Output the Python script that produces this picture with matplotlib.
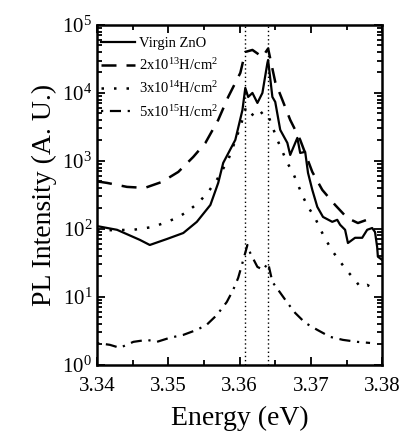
import numpy as np
import matplotlib
matplotlib.use('Agg')
import matplotlib.pyplot as plt
from matplotlib.ticker import MultipleLocator, LogLocator, NullFormatter

plt.rcParams['font.family'] = ['Liberation Serif', 'DejaVu Serif']
plt.rcParams['mathtext.fontset'] = 'custom'
plt.rcParams['mathtext.rm'] = 'Liberation Serif'
plt.rcParams['mathtext.it'] = 'Liberation Serif:italic'

# Virgin ZnO
e_virgin = [3.3400, 3.3428, 3.3460, 3.3474, 3.3498, 3.3521, 3.3540, 3.3559, 3.3570,
            3.3577, 3.3594, 3.3604, 3.3608, 3.3612, 3.3618, 3.3625, 3.3632, 3.3639,
            3.3640, 3.3646, 3.3650, 3.3657, 3.3667, 3.3671, 3.3681, 3.3685, 3.3692,
            3.3696, 3.3702, 3.3709, 3.3717, 3.3730, 3.3737, 3.3741, 3.3748, 3.3752,
            3.3762, 3.3772, 3.3779, 3.3786, 3.3790, 3.3793, 3.3794, 3.3800]
i_virgin = [110, 97, 69, 58, 71, 87, 127, 225, 475,
            935, 2040, 5620, 11860, 8730, 10000, 7130, 10000, 27600,
            30550, 8730, 7380, 2860, 1840, 1225, 2180, 1310, 1360,
            666, 375, 211, 150, 127, 136, 115, 97, 62,
            74, 74, 97, 103, 90, 54, 39, 35]

# 2x10^13 H/cm^2
e_h13 = [3.3400, 3.3414, 3.3442, 3.3467, 3.3491, 3.3514, 3.3535, 3.3552, 3.3570,
         3.3584, 3.3601, 3.3608, 3.3618, 3.3632, 3.3640, 3.3650, 3.3660, 3.3671,
         3.3685, 3.3702, 3.3716, 3.3734, 3.3751, 3.3766, 3.3786]
i_h13 = [500, 475, 415, 401, 491, 689, 1145, 1840, 4010,
         8730, 19700, 40100, 42900, 33800, 45000, 14500, 7890, 4010,
         2040, 689, 375, 225, 145, 122, 145]

# 3x10^14 H/cm^2
e_h14 = [3.3400, 3.3451, 3.3479, 3.3498, 3.3512, 3.3526, 3.3542, 3.3556, 3.3568,
         3.3584, 3.3601, 3.3609, 3.3622, 3.3633, 3.3640, 3.3653, 3.3667, 3.3675,
         3.3682, 3.3689, 3.3696, 3.3706, 3.3713, 3.3721, 3.3731, 3.3741, 3.3752,
         3.3762, 3.3769, 3.3779, 3.3786]
i_h14 = [95, 97, 107, 127, 145, 178, 241, 350, 525,
         1035, 3160, 6200, 4290, 5300, 4700, 2040, 935, 666,
         444, 296, 211, 145, 100, 69, 46, 33, 23.3,
         17.8, 14, 15, 13.6]

# 5x10^15 H/cm^2
e_h15 = [3.3400, 3.3418, 3.3432, 3.3451, 3.3470, 3.3484, 3.3502, 3.3521, 3.3540,
         3.3554, 3.3568, 3.3582, 3.3591, 3.3598, 3.3604, 3.3611, 3.3615, 3.3625,
         3.3633, 3.3640, 3.3646, 3.3657, 3.3667, 3.3678, 3.3692, 3.3709, 3.3727,
         3.3745, 3.3765, 3.3783]
i_h15 = [2.1, 1.97, 1.78, 2.18, 2.33, 2.18, 2.5, 2.76, 3.27,
         3.9, 5.4, 8.4, 12.7, 19, 31.6, 58, 44, 27.6,
         25, 31.6, 16.6, 11.5, 8.2, 5.8, 4.15, 3.27, 2.58,
         2.33, 2.18, 2.1]

peaks = [3.3608, 3.3640]

fig = plt.figure(figsize=(4.01, 4.38), dpi=100)
ax = fig.add_axes([0.242, 0.167, 0.711, 0.776])

ax.plot(e_virgin, i_virgin, color='k', lw=1.6, ls='-', label='Virgin ZnO')
ax.plot(e_h13, i_h13, color='k', lw=1.8, ls=(0, (6, 4)), label=r'2x10$^{13}$H/cm$^2$')
ax.plot(e_h14, i_h14, color='k', lw=1.8, ls=(0, (1, 4)), label=r'3x10$^{14}$H/cm$^2$')
ax.plot(e_h15, i_h15, color='k', lw=1.6, ls=(0, (1, 3, 5, 3)), label=r'5x10$^{15}$H/cm$^2$')
for p in peaks:
    ax.axvline(p, color='k', lw=1.0, ls=(0, (1, 2)))

ax.set_yscale('log')
ax.set_xlim(3.34, 3.38)
ax.set_ylim(1, 1e5)
ax.xaxis.set_major_locator(MultipleLocator(0.01))
ax.xaxis.set_minor_locator(MultipleLocator(0.005))
ax.xaxis.set_major_formatter(plt.FuncFormatter(lambda v, p: '%.2f' % v))
ax.yaxis.set_major_locator(LogLocator(base=10, numticks=10))
ax.yaxis.set_minor_locator(LogLocator(base=10, subs=np.arange(2, 10), numticks=10))
ax.yaxis.set_minor_formatter(NullFormatter())

ax.tick_params(which='both', direction='in', top=True, right=True, labelsize=15, width=1.3)
ax.tick_params(which='major', length=6)
ax.tick_params(which='minor', length=3.5)
ax.tick_params(axis='x', which='major', pad=9)
for s in ax.spines.values():
    s.set_linewidth(1.8)

ax.set_xlabel('Energy (eV)', fontsize=20, labelpad=7)
ax.set_ylabel('PL Intensity (A. U.)', fontsize=20)

ax.legend(loc='upper left', bbox_to_anchor=(0.0, 0.978), frameon=False, fontsize=10.5,
          handlelength=2.3, handletextpad=0.3, labelspacing=0.5, borderaxespad=0.1,
          borderpad=0.2)

fig.savefig('out.png', dpi=100)
